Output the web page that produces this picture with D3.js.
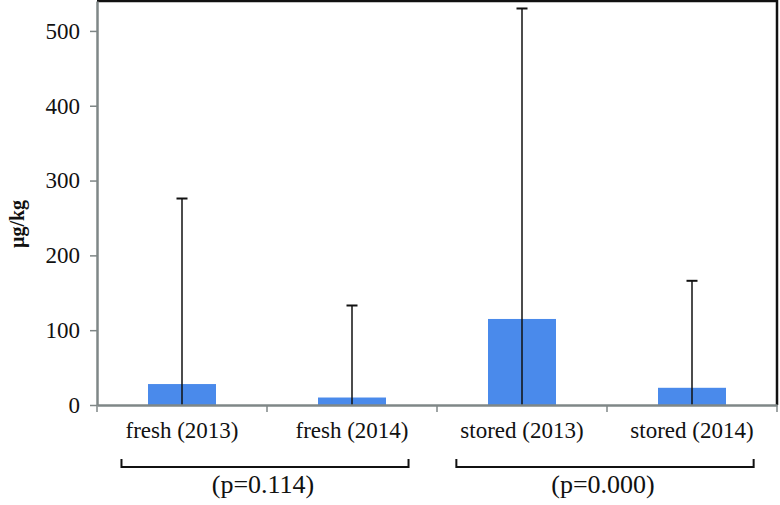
<!DOCTYPE html>
<html>
<head>
<meta charset="utf-8">
<script src="https://cdn.jsdelivr.net/npm/d3@7"></script>
<style>
  html, body { margin: 0; padding: 0; background: #fff; }
  svg text { font-family: "Liberation Serif", "Times New Roman", serif; fill: #111; }
</style>
</head>
<body>
<div id="host"></div>
<script>
const categories = ['fresh (2013)', 'fresh (2014)', 'stored (2013)', 'stored (2014)'];
const means = [28, 10, 115, 23];
const upperErr = [276, 133, 530, 166];
const yTicks = [0, 100, 200, 300, 400, 500];
const groups = [
  { label: '(p=0.114)', from: 0, to: 1 },
  { label: '(p=0.000)', from: 2, to: 3 },
];

const width = 780;
const height = 505;
const margin = { top: 1, right: 3, bottom: 100, left: 97 };
const innerW = width - margin.left - margin.right;
const innerH = height - margin.top - margin.bottom;
const fontSize = 23;

const svg = d3.select('#host').append('svg')
  .attr('width', width)
  .attr('height', height);

const g = svg.append('g').attr('transform', `translate(${margin.left},${margin.top})`);

const x = d3.scaleBand().domain(categories).range([0, innerW]).padding(0);
const y = d3.scaleLinear().domain([0, 540]).range([innerH, 0]);

// frame (top and right)
g.append('path')
  .attr('d', `M0,0H${innerW}V${innerH}`)
  .attr('fill', 'none')
  .attr('stroke', '#111')
  .attr('stroke-width', 2.5);

// bars
const barW = x.bandwidth() * 0.4;
g.selectAll('rect.bar')
  .data(categories)
  .join('rect')
  .attr('class', 'bar')
  .attr('x', (c) => x(c) + (x.bandwidth() - barW) / 2)
  .attr('y', (c, i) => y(means[i]))
  .attr('width', barW)
  .attr('height', (c, i) => innerH - y(means[i]))
  .attr('fill', '#4a8aeb');

// error bars (from zero up to mean + sd)
const cx = (c) => x(c) + x.bandwidth() / 2;
g.selectAll('line.err')
  .data(categories)
  .join('line')
  .attr('class', 'err')
  .attr('x1', cx).attr('x2', cx)
  .attr('y1', innerH)
  .attr('y2', (c, i) => y(upperErr[i]))
  .attr('stroke', '#111')
  .attr('stroke-width', 1.5);

g.selectAll('line.cap')
  .data(categories)
  .join('line')
  .attr('class', 'cap')
  .attr('x1', (c) => cx(c) - 5.5).attr('x2', (c) => cx(c) + 5.5)
  .attr('y1', (c, i) => y(upperErr[i]))
  .attr('y2', (c, i) => y(upperErr[i]))
  .attr('stroke', '#111')
  .attr('stroke-width', 2);

// y axis
const yAxis = g.append('g')
  .call(d3.axisLeft(y).tickValues(yTicks).tickSize(7).tickPadding(10).tickSizeOuter(0));
yAxis.select('.domain').attr('stroke', '#7f8787').attr('stroke-width', 2.5);
yAxis.selectAll('.tick line').attr('stroke', '#7f8787').attr('stroke-width', 1.5);
yAxis.selectAll('text').attr('font-size', fontSize).style('fill', '#111');

// x axis
const xAxis = g.append('g')
  .attr('transform', `translate(0,${innerH})`)
  .call(d3.axisBottom(x).tickSize(0));
xAxis.select('.domain').attr('stroke', '#7f8787').attr('stroke-width', 2.5);
xAxis.selectAll('text')
  .attr('font-size', fontSize)
  .attr('y', 33)
  .attr('dy', 0)
  .style('fill', '#111');

// category boundary ticks
const bounds = categories.map((c) => x(c)).concat([innerW]);
g.selectAll('line.bound')
  .data(bounds)
  .join('line')
  .attr('class', 'bound')
  .attr('x1', (d) => d).attr('x2', (d) => d)
  .attr('y1', innerH).attr('y2', innerH + 7)
  .attr('stroke', '#7f8787')
  .attr('stroke-width', 1.5);

// group brackets, spanning the category labels
const labelNodes = xAxis.selectAll('.tick text').nodes();
const bTop = innerH + 54;
const bBot = innerH + 62;
groups.forEach((grp) => {
  const b0 = labelNodes[grp.from].getBBox();
  const b1 = labelNodes[grp.to].getBBox();
  const x0 = x(categories[grp.from]) + x.bandwidth() / 2 + b0.x - 4;
  const x1 = x(categories[grp.to]) + x.bandwidth() / 2 + b1.x + b1.width;
  g.append('path')
    .attr('d', `M${x0},${bTop}V${bBot}H${x1}V${bTop}`)
    .attr('fill', 'none')
    .attr('stroke', '#111')
    .attr('stroke-width', 2);
  g.append('text')
    .attr('x', (x0 + x1) / 2 - 2)
    .attr('y', bBot + 26)
    .attr('text-anchor', 'middle')
    .attr('font-size', 26)
    .text(grp.label);
});

// y label
svg.append('text')
  .attr('transform', `translate(24,224) rotate(-90)`)
  .attr('text-anchor', 'middle')
  .attr('font-size', 20)
  .attr('font-weight', 'bold')
  .text('µg/kg');
</script>
</body>
</html>
